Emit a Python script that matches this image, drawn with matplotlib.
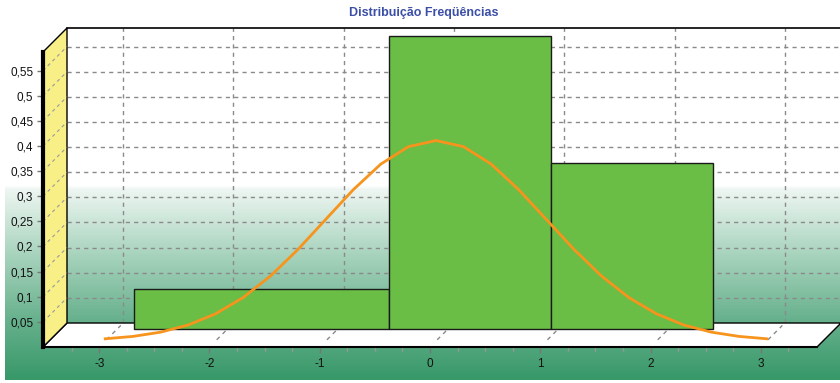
import numpy as np
import matplotlib
matplotlib.use("Agg")
import matplotlib.pyplot as plt
import matplotlib.transforms as mtransforms
from matplotlib.patches import Polygon
from matplotlib.colors import LinearSegmentedColormap

# histogram bins (edges) and heights
bin_edges = [-2.85, -0.535, 0.935, 2.40]
bin_heights = [0.080, 0.584, 0.331]

# normal density curve, read every 0.25
curve_x = [-3.0, -2.75, -2.5, -2.25, -2.0, -1.75, -1.5, -1.25, -1.0, -0.75, -0.5, -0.25,
           0.0, 0.25, 0.5, 0.75, 1.0, 1.25, 1.5, 1.75, 2.0, 2.25, 2.5, 2.75, 3.0]
curve_y = [0.0044, 0.0091, 0.0175, 0.0317, 0.0540, 0.0863, 0.1295, 0.1826, 0.2420, 0.3011,
           0.3521, 0.3867, 0.3989, 0.3867, 0.3521, 0.3011, 0.2420, 0.1826, 0.1295, 0.0863,
           0.0540, 0.0317, 0.0175, 0.0091, 0.0044]

y_ticks = [0.05, 0.1, 0.15, 0.2, 0.25, 0.3, 0.35, 0.4, 0.45, 0.5, 0.55]
y_labels = ["0,05", "0,1", "0,15", "0,2", "0,25", "0,3", "0,35", "0,4", "0,45", "0,5", "0,55"]
x_ticks = [-3, -2, -1, 0, 1, 2, 3]

XMIN, XMAX = -3.51, 3.51
YMIN, YMAX = 0.0, 0.587
DEPTH = 24      # pixel depth of the 3d box
BAR_DEPTH = 18
LINE_DEPTH = 6

W, H = 840, 383
plt.rcParams['font.family'] = ['Liberation Sans', 'DejaVu Sans']
plt.rcParams['axes.unicode_minus'] = False
fig = plt.figure(figsize=(W / 100, H / 100), dpi=100)

# background: white top, green gradient at the bottom
bg = fig.add_axes([0, 0, 1, 1])
bg.set_xlim(0, W)
bg.set_ylim(H, 0)
bg.axis("off")
cmap = LinearSegmentedColormap.from_list(
    "bg", [(0.0, "#ffffff"), (0.02, "#eef6f2"), (0.35, "#a9d4be"), (0.7, "#66b08c"), (1.0, "#379868")])
grad = np.linspace(0, 1, 256).reshape(-1, 1)
bg.imshow(grad, cmap=cmap, extent=[5, W, 380, 185], aspect="auto")

ax = fig.add_axes([43 / W, (H - 347) / H, (817 - 43) / W, (347 - 52) / H])
ax.set_xlim(XMIN, XMAX)
ax.set_ylim(YMIN, YMAX)
ax.patch.set_alpha(0)


def shifted(d):
    return mtransforms.offset_copy(ax.transData, fig=fig, x=d, y=d, units="dots")


back = shifted(DEPTH)
front = ax.transData

# back wall grid
for y in y_ticks:
    ax.plot([XMIN, XMAX], [y, y], transform=back, color="#8a8a8a", lw=1,
            ls=(0, (3, 3)), clip_on=False, zorder=1)
for x in x_ticks:
    ax.plot([x, x], [0, YMAX], transform=back, color="#8a8a8a", lw=1,
            ls=(0, (3, 3)), clip_on=False, zorder=1)
ax.plot([XMIN, XMAX + 0.3], [YMAX, YMAX], transform=back, color="black", lw=1.2,
        clip_on=False, zorder=2)

# floor
ppx = DEPTH / (ax.bbox.width / (XMAX - XMIN))
ppy = DEPTH / (ax.bbox.height / (YMAX - YMIN))
floor = Polygon([[XMIN, 0], [XMAX, 0], [XMAX + ppx, ppy], [XMIN + ppx, ppy]],
                closed=True, facecolor="white", edgecolor="black", lw=1,
                transform=front, clip_on=False, zorder=2)
ax.add_patch(floor)
for x in x_ticks:
    ax.plot([x + 0.3 * ppx, x + 0.9 * ppx], [0.3 * ppy, 0.9 * ppy], transform=front,
            color="#8a8a8a", lw=1, ls=(0, (3, 3)), clip_on=False, zorder=3)

# left wall
wall = Polygon([[XMIN, 0], [XMIN, YMAX], [XMIN + ppx, YMAX + ppy], [XMIN + ppx, ppy]],
               closed=True, facecolor="#f8ef86", edgecolor="black", lw=1,
               transform=front, clip_on=False, zorder=3)
ax.add_patch(wall)
for y in y_ticks:
    ax.plot([XMIN, XMIN + ppx], [y, y + ppy], transform=front, color="#9a9a9a",
            lw=0.8, ls=(0, (3, 3)), clip_on=False, zorder=4)

# histogram bars
widths = np.diff(bin_edges)
ax.bar(bin_edges[:-1], bin_heights, width=widths, align="edge", color="#6abd45",
       edgecolor="#1a1a1a", lw=1, transform=shifted(BAR_DEPTH), clip_on=False, zorder=5)

# density curve
ax.plot(curve_x, curve_y, color="#f7941d", lw=2, transform=shifted(LINE_DEPTH),
        clip_on=False, zorder=6)

# axes
for s in ["top", "right"]:
    ax.spines[s].set_visible(False)
ax.spines["left"].set_linewidth(3)
ax.spines["left"].set_zorder(7)
ax.spines["bottom"].set_linewidth(1.5)
ax.spines["bottom"].set_zorder(7)
ax.set_yticks(y_ticks)
ax.set_yticklabels(y_labels)
ax.set_xticks(x_ticks)
ax.set_xticks(np.arange(-3.25, 3.5, 0.25), minor=True)
ax.tick_params(axis="both", which="major", labelsize=8.5, color="#777777", length=4,
               width=1, pad=3, labelcolor="#111111")
ax.tick_params(axis="x", which="minor", color="#999999", length=3, width=1)
ax.tick_params(axis="x", which="major", pad=4)

fig.text(424 / W, 1 - 13 / H, "Distribuição Freqüências", ha="center", va="center",
         fontsize=9, fontweight="bold", color="#3b4fa6")

fig.savefig("out.png", dpi=100)
